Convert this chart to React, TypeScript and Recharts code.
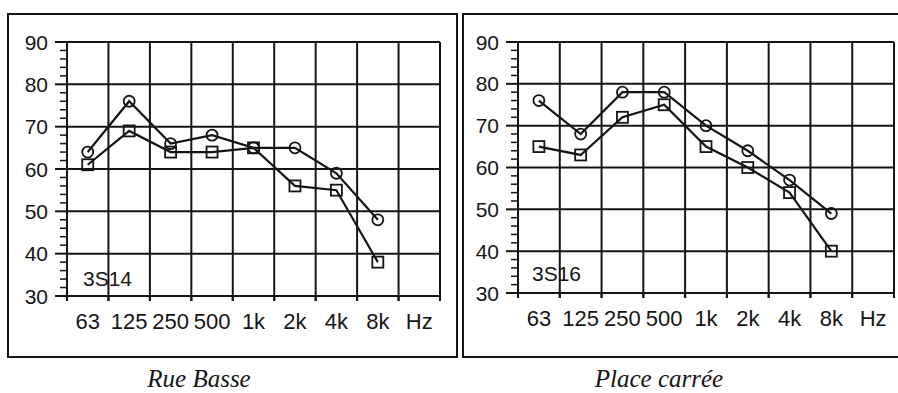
import React from 'react';
import { LineChart, Line, XAxis, YAxis, CartesianGrid } from 'recharts';

// octave bands (last column only carries the unit)
const bands = ['63', '125', '250', '500', '1k', '2k', '4k', '8k', 'Hz'];

const rueBasseCircle = [64, 76, 66, 68, 65, 65, 59, 48];
const rueBasseSquare = [61, 69, 64, 64, 65, 56, 55, 38];
const placeCarreeCircle = [76, 68, 78, 78, 70, 64, 57, 49];
const placeCarreeSquare = [65, 63, 72, 75, 65, 60, 54, 40];

const majorTicks = [30, 40, 50, 60, 70, 80, 90];
const minorSteps = [2, 4, 6, 8];

const INK = '#151515';
const SANS = '"Liberation Sans", Arial, Helvetica, sans-serif';

const yTicks = majorTicks.flatMap((t, i) =>
  i < majorTicks.length - 1 ? [t, ...minorSteps.map((s) => t + s)] : [t]
);

const toRows = (circle: number[], square: number[]) =>
  bands.map((f, i) => ({
    f,
    circle: i < circle.length ? circle[i] : null,
    square: i < square.length ? square[i] : null,
  }));

const yMin = majorTicks[0];
const yMax = majorTicks[majorTicks.length - 1];

const YTick = (props: any) => {
  const { x, y, payload } = props;
  const v = payload.value as number;
  const major = v % 10 === 0;
  return (
    <g>
      <line x1={x - (major ? 12 : 7)} x2={x} y1={y} y2={y} stroke={INK} strokeWidth={major ? 2 : 1.5} />
      {major && (
        <text x={x - 19} y={y} dy="0.36em" textAnchor="end" fontSize={21} fontFamily={SANS} fill={INK}>
          {v}
        </text>
      )}
    </g>
  );
};

const XTick = (props: any) => {
  const { x, y, payload } = props;
  const half = payload.offset ?? 0;
  return (
    <g>
      <line x1={x - half} x2={x - half} y1={y} y2={y + 5} stroke={INK} strokeWidth={2} />
      <line x1={x + half} x2={x + half} y1={y} y2={y + 5} stroke={INK} strokeWidth={2} />
      <text x={x} y={y + 25} dy="0.36em" textAnchor="middle" fontSize={22} fontFamily={SANS} fill={INK}>
        {payload.value}
      </text>
    </g>
  );
};

const CircleDot = (props: any) => {
  const { cx, cy, index } = props;
  if (cy == null || cx == null) return <g key={`c${index}`} />;
  return <circle key={`c${index}`} cx={cx} cy={cy} r={5.5} fill="none" stroke={INK} strokeWidth={1.8} />;
};

const SquareDot = (props: any) => {
  const { cx, cy, index } = props;
  if (cy == null || cx == null) return <g key={`s${index}`} />;
  return <rect key={`s${index}`} x={cx - 5.5} y={cy - 5.5} width={11} height={11} fill="none" stroke={INK} strokeWidth={1.8} />;
};

interface PanelProps {
  left: number;
  top: number;
  width: number;
  height: number;
  margin: { top: number; right: number; bottom: number; left: number };
  circle: number[];
  square: number[];
  tag: string;
  tagX: number;
  tagY: number;
}

function Panel({ left, top, width, height, margin, circle, square, tag, tagX, tagY }: PanelProps) {
  const data = toRows(circle, square);
  return (
    <div
      style={{
        position: 'absolute',
        left,
        top,
        width,
        height,
        border: `2px solid ${INK}`,
        boxSizing: 'border-box',
      }}
    >
      <div
        style={{
          position: 'absolute',
          left: tagX,
          top: tagY,
          fontFamily: SANS,
          fontSize: 21,
          lineHeight: 1,
          color: INK,
        }}
      >
        {tag}
      </div>
      <LineChart width={width - 4} height={height - 4} data={data} margin={margin}>
        <CartesianGrid
          stroke={INK}
          strokeWidth={2}
          verticalCoordinatesGenerator={({ offset }: any) =>
            Array.from({ length: bands.length + 1 }, (_, i) => offset.left + (i * offset.width) / bands.length)
          }
          horizontalCoordinatesGenerator={({ offset }: any) =>
            majorTicks.map((v) => offset.top + (offset.height * (yMax - v)) / (yMax - yMin))
          }
        />
        <XAxis
          dataKey="f"
          type="category"
          scale="band"
          interval={0}
          height={30}
          axisLine={false}
          tickLine={false}
          tickSize={0}
          tickMargin={0}
          tick={<XTick />}
        />
        <YAxis
          type="number"
          domain={[yMin, yMax]}
          ticks={yTicks}
          interval={0}
          width={40}
          axisLine={false}
          tickLine={false}
          tickSize={0}
          tickMargin={0}
          tick={<YTick />}
        />
        <Line
          dataKey="circle"
          stroke={INK}
          strokeWidth={2.2}
          dot={<CircleDot />}
          activeDot={false}
          isAnimationActive={false}
        />
        <Line
          dataKey="square"
          stroke={INK}
          strokeWidth={2.2}
          dot={<SquareDot />}
          activeDot={false}
          isAnimationActive={false}
        />
      </LineChart>
    </div>
  );
}

const captionStyle: React.CSSProperties = {
  position: 'absolute',
  top: 366,
  width: 240,
  textAlign: 'center',
  fontFamily: '"Liberation Serif", "Times New Roman", serif',
  fontStyle: 'italic',
  fontSize: 25,
  lineHeight: 1,
  color: INK,
};

export default function App() {
  return (
    <div
      style={{
        position: 'absolute',
        left: 0,
        top: 0,
        width: 898,
        height: 393,
        overflow: 'hidden',
        background: '#fff',
      }}
    >
      <Panel
        left={7}
        top={13}
        width={451}
        height={345}
        margin={{ top: 27, right: 16, bottom: 30, left: 18 }}
        circle={rueBasseCircle}
        square={rueBasseSquare}
        tag="3S14"
        tagX={74}
        tagY={253}
      />
      <Panel
        left={462}
        top={13}
        width={440}
        height={345}
        margin={{ top: 27, right: 6, bottom: 33, left: 14 }}
        circle={placeCarreeCircle}
        square={placeCarreeSquare}
        tag="3S16"
        tagX={68}
        tagY={248}
      />
      <div style={{ ...captionStyle, left: 199 - 120 }}>Rue Basse</div>
      <div style={{ ...captionStyle, left: 659 - 120 }}>Place carrée</div>
    </div>
  );
}
